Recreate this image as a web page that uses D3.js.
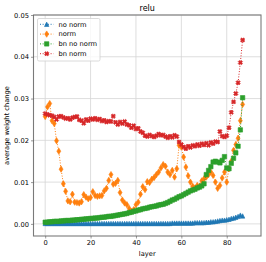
<!DOCTYPE html>
<html>
<head>
<meta charset="utf-8">
<script src="https://cdn.jsdelivr.net/npm/d3@7"></script>
<style>
  body { margin: 0; background: #fff; }
  svg { display: block; font-family: "DejaVu Sans", sans-serif; }
</style>
</head>
<body>
<svg id="chart" width="266" height="262"></svg>
<script>
const title = 'relu';
const xLabel = 'layer';
const yLabel = 'average weight change';
const seriesNames = ['no norm', 'norm', 'bn no norm', 'bn norm'];
const xTicks = [0, 20, 40, 60, 80];
const yTicks = [0, 0.01, 0.02, 0.03, 0.04, 0.05];

const noNorm = [
  0.0001, 0.0001, 0.0001, 0.0001, 0.0001, 0.0001, 0.0001, 0.0001, 0.0001, 0.0001,
  0.0001, 0.0001, 0.0001, 0.0001, 0.0001, 0.0001, 0.0001, 0.0001, 0.0001, 0.0001,
  0.0001, 0.0001, 0.0001, 0.0001, 0.0001, 0.0001, 0.0001, 0.0001, 0.0001, 0.0001,
  0.0001, 0.0001, 0.0001, 0.0001, 0.0001, 0.0001, 0.0001, 0.0001, 0.0001, 0.0001,
  0.0001, 0.0001, 0.0001, 0.0001, 0.0001, 0.0001, 0.0001, 0.0001, 0.0001, 0.0001,
  0.0001, 0.0001, 0.0001, 0.0001, 0.0001, 0.0001, 0.0002, 0.0002, 0.0002, 0.0002,
  0.0002, 0.0002, 0.0002, 0.0002, 0.0002, 0.0002, 0.0003, 0.0003, 0.0003, 0.0003,
  0.0003, 0.0004, 0.0004, 0.0005, 0.0005, 0.0006, 0.0007, 0.0008, 0.0009, 0.0009,
  0.0010, 0.0011, 0.0013, 0.0014, 0.0016, 0.0018, 0.0021, 0.0019
];
const norm = [
  0.0257, 0.0280, 0.0288, 0.0247, 0.0240, 0.0199, 0.0174, 0.0131, 0.0096, 0.0078,
  0.0055, 0.0053, 0.0071, 0.0052, 0.0051, 0.0050, 0.0053, 0.0070, 0.0064, 0.0060,
  0.0063, 0.0077, 0.0068, 0.0066, 0.0067, 0.0068, 0.0079, 0.0085, 0.0104, 0.0118,
  0.0095, 0.0097, 0.0104, 0.0075, 0.0057, 0.0050, 0.0046, 0.0037, 0.0030, 0.0034,
  0.0046, 0.0052, 0.0071, 0.0089, 0.0082, 0.0101, 0.0099, 0.0107, 0.0111, 0.0118,
  0.0124, 0.0134, 0.0142, 0.0138, 0.0124, 0.0118, 0.0128, 0.0112, 0.0132, 0.0188,
  0.0184, 0.0160, 0.0136, 0.0115, 0.0100, 0.0090, 0.0086, 0.0092, 0.0090, 0.0103,
  0.0108, 0.0112, 0.0118, 0.0124, 0.0116, 0.0100, 0.0085, 0.0092, 0.0110, 0.0124,
  0.0100, 0.0132, 0.0150, 0.0176, 0.0190, 0.0205, 0.0247, 0.0286
];
const bnNoNorm = [
  0.0004, 0.0004, 0.0005, 0.0005, 0.0006, 0.0006, 0.0006, 0.0007, 0.0007, 0.0008,
  0.0008, 0.0008, 0.0009, 0.0009, 0.0010, 0.0010, 0.0011, 0.0011, 0.0012, 0.0012,
  0.0013, 0.0013, 0.0014, 0.0014, 0.0015, 0.0016, 0.0016, 0.0017, 0.0018, 0.0018,
  0.0019, 0.0020, 0.0021, 0.0022, 0.0023, 0.0024, 0.0025, 0.0027, 0.0028, 0.0030,
  0.0031, 0.0033, 0.0034, 0.0036, 0.0037, 0.0038, 0.0040, 0.0041, 0.0042, 0.0043,
  0.0045, 0.0046, 0.0047, 0.0049, 0.0051, 0.0054, 0.0057, 0.0059, 0.0062, 0.0065,
  0.0067, 0.0070, 0.0073, 0.0076, 0.0079, 0.0081, 0.0083, 0.0086, 0.0088, 0.0091,
  0.0096, 0.0118, 0.0128, 0.0137, 0.0148, 0.0150, 0.0148, 0.0146, 0.0152, 0.0161,
  0.0134, 0.0132, 0.0145, 0.0157, 0.0170, 0.0186, 0.0225, 0.0302
];
const bnNorm = [
  0.0264, 0.0262, 0.0260, 0.0259, 0.0256, 0.0250, 0.0257, 0.0258, 0.0255, 0.0252,
  0.0253, 0.0250, 0.0254, 0.0256, 0.0257, 0.0249, 0.0247, 0.0241, 0.0250, 0.0247,
  0.0252, 0.0250, 0.0253, 0.0249, 0.0251, 0.0246, 0.0248, 0.0244, 0.0246, 0.0245,
  0.0258, 0.0243, 0.0238, 0.0244, 0.0240, 0.0245, 0.0238, 0.0236, 0.0230, 0.0235,
  0.0227, 0.0229, 0.0221, 0.0218, 0.0211, 0.0209, 0.0213, 0.0210, 0.0208, 0.0211,
  0.0215, 0.0212, 0.0213, 0.0209, 0.0206, 0.0210, 0.0207, 0.0212, 0.0209, 0.0196,
  0.0190, 0.0184, 0.0180, 0.0186, 0.0183, 0.0188, 0.0186, 0.0190, 0.0187, 0.0192,
  0.0189, 0.0193, 0.0188, 0.0195, 0.0192, 0.0197, 0.0196, 0.0221, 0.0210, 0.0208,
  0.0211, 0.0230, 0.0267, 0.0292, 0.0312, 0.0338, 0.0386, 0.0440
];

const colors = ['#1f77b4', '#ff7f0e', '#2ca02c', '#d62728'];
const markers = ['triangle', 'thinDiamond', 'square', 'xFilled'];
const allSeries = [noNorm, norm, bnNoNorm, bnNorm];

const svg = d3.select('#chart');
const plot = { left: 33.5, right: 261, top: 15, bottom: 236 };

const x = d3.scaleLinear().domain([-5.15, 95.1]).range([plot.left, plot.right]);
const y = d3.scaleLinear().domain([-0.0029, 0.05]).range([plot.bottom, plot.top]);

// marker path, centred on 0,0, m = marker size in px
function markerPath (kind, m) {
  const h = m / 2;
  if (kind === 'triangle') {
    return `M0,${-h}L${h},${h}L${-h},${h}Z`;
  }
  if (kind === 'thinDiamond') {
    const w = m * 0.45, t = m * 0.72;
    return `M0,${-t}L${w},0L0,${t}L${-w},0Z`;
  }
  if (kind === 'square') {
    return `M${-h},${-h}H${h}V${h}H${-h}Z`;
  }
  // filled x, heavy arms
  const a = h, b = h * 0.55;
  const pts = [
    [-a + b, -a], [0, -b], [a - b, -a], [a, -a + b], [b, 0], [a, a - b],
    [a - b, a], [0, b], [-a + b, a], [-a, a - b], [-b, 0], [-a, -a + b]
  ];
  return 'M' + pts.map(p => p.join(',')).join('L') + 'Z';
}

// grid
svg.append('g')
  .selectAll('line')
  .data(xTicks)
  .join('line')
  .attr('x1', d => x(d)).attr('x2', d => x(d))
  .attr('y1', plot.top).attr('y2', plot.bottom)
  .attr('stroke', '#d6d6d6').attr('stroke-width', 0.8);
svg.append('g')
  .selectAll('line')
  .data(yTicks)
  .join('line')
  .attr('y1', d => y(d)).attr('y2', d => y(d))
  .attr('x1', plot.left).attr('x2', plot.right)
  .attr('stroke', '#d6d6d6').attr('stroke-width', 0.8);

// series
const line = d3.line().x((d, i) => x(i)).y(d => y(d));
allSeries.forEach((values, k) => {
  const g = svg.append('g');
  g.append('path')
    .attr('d', line(values))
    .attr('fill', 'none')
    .attr('stroke', colors[k])
    .attr('stroke-width', 1)
    .attr('stroke-dasharray', '1,1.65');
  g.selectAll('path.mk')
    .data(values)
    .join('path')
    .attr('class', 'mk')
    .attr('d', markerPath(markers[k], 4.4))
    .attr('transform', (d, i) => `translate(${x(i)},${y(d)})`)
    .attr('fill', colors[k])
    .attr('stroke', colors[k])
    .attr('stroke-width', 0.6);
});

// spines
svg.append('rect')
  .attr('x', plot.left).attr('y', plot.top)
  .attr('width', plot.right - plot.left).attr('height', plot.bottom - plot.top)
  .attr('fill', 'none').attr('stroke', '#7a7a7a').attr('stroke-width', 1.1);

// axes
const xAxis = svg.append('g')
  .attr('transform', `translate(0,${plot.bottom})`)
  .call(d3.axisBottom(x).tickValues(xTicks).tickFormat(d3.format('d')).tickSize(2.5).tickPadding(2));
const yAxis = svg.append('g')
  .attr('transform', `translate(${plot.left},0)`)
  .call(d3.axisLeft(y).tickValues(yTicks).tickFormat(d3.format('.2f')).tickSize(2.5).tickPadding(2));
[xAxis, yAxis].forEach(ax => {
  ax.select('.domain').remove();
  ax.selectAll('line').attr('stroke', '#555').attr('stroke-width', 0.6);
  ax.selectAll('text').attr('font-size', 6.7).attr('fill', '#000')
    .attr('font-family', '"DejaVu Sans", sans-serif');
});

// labels
svg.append('text')
  .attr('x', (plot.left + plot.right) / 2).attr('y', 11)
  .attr('text-anchor', 'middle').attr('font-size', 8)
  .text(title);
svg.append('text')
  .attr('x', (plot.left + plot.right) / 2).attr('y', 256)
  .attr('text-anchor', 'middle').attr('font-size', 6.7)
  .text(xLabel);
svg.append('text')
  .attr('transform', `translate(9,${(plot.top + plot.bottom) / 2}) rotate(-90)`)
  .attr('text-anchor', 'middle').attr('font-size', 6.7)
  .text(yLabel);

// legend
const legend = svg.append('g').attr('transform', 'translate(37.5,18.5)');
legend.append('rect')
  .attr('width', 62.5).attr('height', 42.5)
  .attr('rx', 1.5)
  .attr('fill', 'rgba(255,255,255,0.8)')
  .attr('stroke', '#d0d0d0').attr('stroke-width', 0.8);
seriesNames.forEach((name, k) => {
  const row = legend.append('g').attr('transform', `translate(0,${5.8 + k * 9.8})`);
  row.append('line')
    .attr('x1', 2.5).attr('x2', 16)
    .attr('stroke', colors[k]).attr('stroke-width', 1)
    .attr('stroke-dasharray', '1,1.65');
  row.append('path')
    .attr('d', markerPath(markers[k], 4.4))
    .attr('transform', 'translate(9.2,0)')
    .attr('fill', colors[k]).attr('stroke', colors[k]).attr('stroke-width', 0.6);
  row.append('text')
    .attr('x', 21).attr('dy', '0.35em')
    .attr('font-size', 6.7)
    .text(name);
});
</script>
</body>
</html>
